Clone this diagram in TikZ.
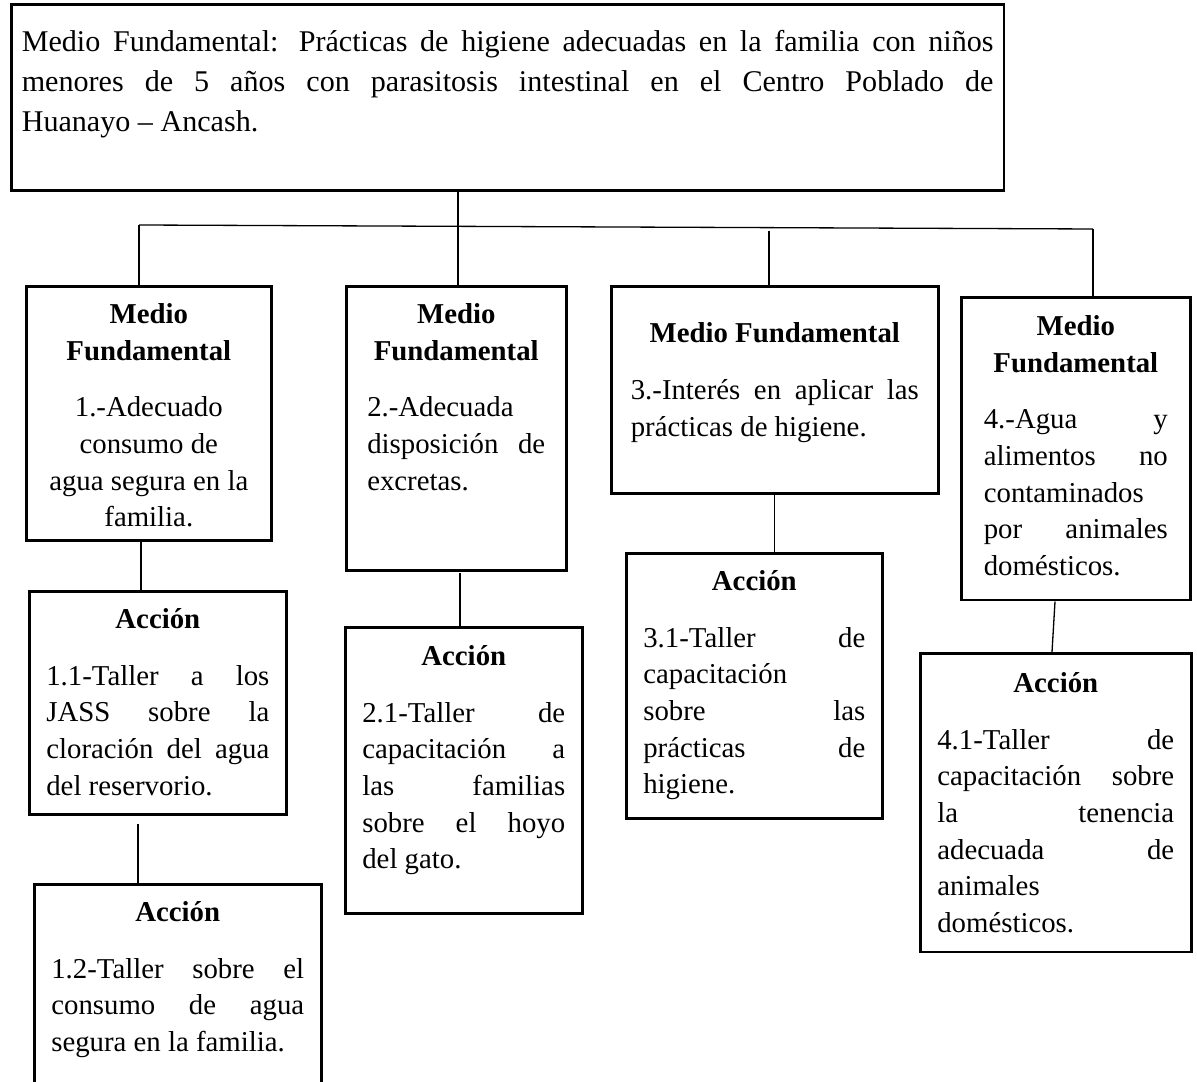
\documentclass[tikz,border=0pt]{standalone}
\usepackage{fontspec}
\setmainfont{Liberation Serif}
\usepackage{tikz}
\newcommand{\boxfont}{\fontsize{11}{14}\selectfont\tolerance 10000 \hyphenpenalty 10000 }
\newcommand{\topfont}{\fontsize{11.5}{15.3}\selectfont\tolerance 10000 \hyphenpenalty 10000 }
\tikzstyle{mfbox} = [draw, line width=1pt, anchor=north west, align=justify, inner xsep=6.5pt, inner ysep=4pt, text height=10.3pt, font=\boxfont]
\tikzstyle{topbox} = [mfbox, inner xsep=4pt, text height=14pt, font=\topfont]
\tikzstyle{link} = [line width=0.5pt]
\newcommand{\titulo}[1]{{\centering\bfseries #1\par}\vspace{7.6pt}}

\begin{document}
\begin{tikzpicture}[x=0.382pt, y=-0.382pt]
  \path[use as bounding box, clip] (0,0) rectangle (1197,1082);

  % Nodes
  \node [topbox, text width=371.2pt, text depth=49.1pt] (top) at (10,3) {\leftskip=3.6pt Medio Fundamental: Prácticas de higiene adecuadas en la familia con niños\linebreak menores de 5 años con parasitosis intestinal en el Centro Poblado de\linebreak Huanayo – Ancash.};

  \node [mfbox, inner xsep=5.8pt, text width=82pt, text depth=78.7pt] (m1) at (25,285) {\titulo{Medio\\Fundamental}{\centering 1.-Adecuado\\ consumo de\\ agua segura en la\\ familia.\par}};
  \node [mfbox, inner xsep=8pt, text width=68pt, text depth=90.2pt] (m2) at (345,285) {\titulo{Medio\\Fundamental}2.-Adecuada\\ disposición de\linebreak excretas.};
  \node [mfbox, inner xsep=7.45pt, text width=110pt, text height=17.6pt, text depth=53.5pt] (m3) at (610,285) {\titulo{Medio Fundamental}3.-Interés en aplicar las\linebreak prácticas de higiene.};
  \node [mfbox, inner xsep=8.6pt, text width=70.3pt, text height=10.7pt, text depth=97pt] (m4) at (960,296) {\titulo{Medio\\Fundamental}4.-Agua y\linebreak alimentos no\linebreak contaminados\\ por animales\linebreak domésticos.};

  \node [mfbox, text width=85.2pt, text depth=66.9pt] (a11) at (28,590) {\titulo{Acción}1.1-Taller a los\linebreak JASS sobre la\linebreak cloración del agua\linebreak del reservorio.};
  \node [mfbox, text width=96.6pt, text depth=64.6pt] (a12) at (33,883) {\titulo{Acción}1.2-Taller sobre el\linebreak consumo de agua\linebreak segura en la familia.};
  \node [mfbox, text width=77.5pt, text height=10.7pt, text depth=90.6pt] (a21) at (344,626) {\titulo{Acción}2.1-Taller de\linebreak capacitación a\linebreak las familias\linebreak sobre el hoyo\linebreak del gato.};
  \node [mfbox, text width=84.8pt, text depth=82.9pt] (a31) at (625,552) {\titulo{Acción}3.1-Taller de\linebreak capacitación\\ sobre las\linebreak prácticas de\linebreak higiene.};
  \node [mfbox, text width=90.5pt, text height=11.06pt, text depth=95.1pt] (a41) at (919,652) {\titulo{Acción}4.1-Taller de\linebreak capacitación sobre\linebreak la tenencia\linebreak adecuada de\linebreak animales\\ domésticos.};

  % Path
  \coordinate (barL) at (139,225);
  \coordinate (barR) at (1093,229);
  \coordinate (j3) at (769,231);
  \coordinate (j1) at (138,824);
  \coordinate (j2) at (460,573);
  \draw [link] (barL) -- (barR);
  \draw [link] (top.south -| 458,0) -- (m2.north -| 458,0);
  \draw [link] (barL) -- (barL |- m1.north);
  \draw [link] (j3) -- (j3 |- m3.north);
  \draw [link] (barR) -- (barR |- m4.north);

  \draw [link] (m1.south -| 141,0) -- (a11.north -| 141,0);
  \draw [link] (j1) -- (j1 |- a12.north);
  \draw [link] (j2) -- (j2 |- a21.north);
  \draw [link] (m3.south) -- (m3.south |- a31.north);
  \draw [link] (m4.south -| 1055,0) -- (a41.north -| 1052,0);
\end{tikzpicture}
\end{document}
